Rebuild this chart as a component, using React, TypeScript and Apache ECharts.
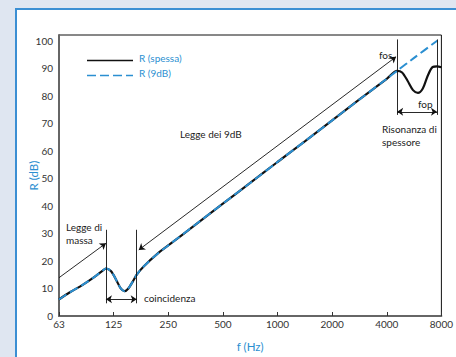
import React, { useEffect, useRef } from "react";
import * as echarts from "echarts";

// Frequency axis tick labels (one per octave, starting at 63 Hz)
const tickLabels = ["63", "125", "250", "500", "1000", "2000", "4000", "8000"];
const baseFreq = 62.5;

// R (spessa): thick panel curve, frequency in Hz and R in dB
const thickFreq = [62.5, 71.8, 84.8, 98.1, 108.8, 113.4, 120.7, 129.4, 136.8, 143.6, 150.7, 159.3, 168.4, 183.0, 220.7, 250, 353.6, 500, 707, 1000, 1414, 2000, 2828, 4000, 4563, 4857, 5206, 5580, 5940, 6320, 6727, 7159, 7567, 8000];
const thickR = [6.0, 8.6, 11.4, 14.2, 16.5, 17.2, 16.3, 13.0, 10.0, 9.0, 10.0, 12.5, 15.2, 18.0, 22.9, 25.6, 33.2, 40.8, 48.3, 55.9, 63.4, 71.0, 78.6, 86.1, 89.0, 88.4, 85.4, 82.0, 81.0, 82.6, 87.2, 90.4, 90.6, 90.3];

// R (9dB): follows the same curve up to fos and then the straight 9 dB law
const nineFreq = [62.5, 71.8, 84.8, 98.1, 108.8, 113.4, 120.7, 129.4, 136.8, 143.6, 150.7, 159.3, 168.4, 183.0, 220.7, 250, 353.6, 500, 707, 1000, 1414, 2000, 2828, 4000, 4563, 5657, 7619];
const nineR = [6.0, 8.6, 11.4, 14.2, 16.5, 17.2, 16.3, 13.0, 10.0, 9.0, 10.0, 12.5, 15.2, 18.0, 22.9, 25.6, 33.2, 40.8, 48.3, 55.9, 63.4, 71.0, 78.6, 86.1, 89.0, 93.7, 100.0];

const BLUE = "#2b8fd1";
const FONT = "Lato";

const oct = (f: number) => Math.log2(f / baseFreq);

export default function App() {
  const ref = useRef<HTMLDivElement>(null);
  useEffect(() => {
    document.body.style.margin = "0";
    const chart = echarts.init(ref.current!, undefined, { renderer: "svg" });
    const ann = { color: "#111", width: 0.9, type: "solid" as const };
    const seg = (a: [number, number], b: [number, number], sym: any) => [
      { coord: [oct(a[0]), a[1]], symbol: sym[0] },
      { coord: [oct(b[0]), b[1]], symbol: sym[1] },
    ];
    const txt = (x: number, y: number, t: string, color = "#222") => ({
      type: "text",
      x,
      y,
      z: 10,
      style: { text: t, fill: color, font: `10px ${FONT}`, textVerticalAlign: "middle" },
    });
    chart.setOption({
      animation: false,
      backgroundColor: "#dfe6f1",
      textStyle: { fontFamily: FONT },
      graphic: [
        {
          type: "rect",
          z: -5,
          shape: { x: 16, y: 9, width: 460, height: 360 },
          style: { fill: "#ffffff", stroke: "#3b8fd3", lineWidth: 2 },
        },
        { type: "line", z: 10, shape: { x1: 87, y1: 60.5, x2: 133, y2: 60.5 }, style: { stroke: "#111", lineWidth: 1.6 } },
        { type: "line", z: 10, shape: { x1: 87, y1: 75.5, x2: 133, y2: 75.5 }, style: { stroke: BLUE, lineWidth: 1.6, lineDash: [9, 4] } },
        txt(139, 57.5, "R (spessa)", BLUE),
        txt(139, 72.5, "R (9dB)", BLUE),
        txt(66, 227, "Legge di"),
        txt(66, 239.5, "massa"),
        txt(144, 298, "coincidenza"),
        txt(180, 133.5, "Legge dei 9dB"),
        txt(379, 54.5, "fos"),
        txt(418, 104, "fop"),
        txt(382, 128.5, "Risonanza di"),
        txt(382, 142, "spessore"),
      ],
      grid: {
        left: 59,
        top: 35,
        right: 9,
        bottom: 40.5,
        show: true,
        borderColor: "#111",
        borderWidth: 1,
        backgroundColor: "transparent",
      },
      xAxis: {
        type: "value",
        min: 0,
        max: 7,
        interval: 1,
        name: "f (Hz)",
        nameLocation: "middle",
        nameGap: 24,
        nameMoveOverlap: false,
        nameTextStyle: { color: BLUE, fontSize: 11.5, fontFamily: FONT },
        axisLine: { lineStyle: { color: "#666", width: 2 } },
        axisTick: { show: true, inside: true, length: 4, lineStyle: { color: "#333" } },
        axisLabel: {
          color: "#333",
          fontSize: 10,
          margin: 3,
          formatter: (v: number) => tickLabels[Math.round(v)] ?? "",
        },
        splitLine: { show: false },
      },
      yAxis: {
        type: "value",
        min: 0,
        max: 102,
        interval: 10,
        name: "R (dB)",
        nameLocation: "middle",
        nameGap: 20,
        nameMoveOverlap: false,
        nameTextStyle: { color: BLUE, fontSize: 11.5, fontFamily: FONT },
        axisLine: { show: true, lineStyle: { color: "#666", width: 2 } },
        axisTick: { show: false },
        axisLabel: {
          color: "#333",
          fontSize: 10,
          margin: 6,
          formatter: (v: number) => (v % 10 === 0 ? String(v) : ""),
        },
        splitLine: { show: false },
      },
      series: [
        {
          name: "R (spessa)",
          type: "line",
          smooth: 0.3,
          symbol: "none",
          z: 3,
          lineStyle: { color: "#111", width: 2.2 },
          data: thickFreq.map((f, i) => [oct(f), thickR[i]]),
          markLine: {
            silent: true,
            symbolSize: 6,
            label: { show: false },
            lineStyle: ann,
            data: [
              seg([62.5, 13.9], [113.4, 26.4], ["none", "arrow"]),
              seg([113.4, 31.3], [113.4, 4.6], ["none", "none"]),
              seg([167.5, 31.3], [167.5, 4.6], ["none", "none"]),
              seg([113.4, 6.1], [167.5, 6.1], ["arrow", "arrow"]),
              seg([172, 24.0], [4500, 94.1], ["arrow", "arrow"]),
              seg([4563, 100.4], [4563, 73.0], ["none", "none"]),
              seg([7567, 100.4], [7567, 73.0], ["none", "none"]),
              seg([4563, 74.1], [7567, 74.1], ["arrow", "arrow"]),
            ],
          },
        },
        {
          name: "R (9dB)",
          type: "line",
          smooth: 0.3,
          symbol: "none",
          z: 4,
          lineStyle: { color: BLUE, width: 2, type: [9, 4] },
          data: nineFreq.map((f, i) => [oct(f), nineR[i]]),
        },
      ],
    });
    return () => chart.dispose();
  }, []);
  return <div ref={ref} style={{ position: "absolute", left: 0, top: 0, width: 456, height: 357 }} />;
}
